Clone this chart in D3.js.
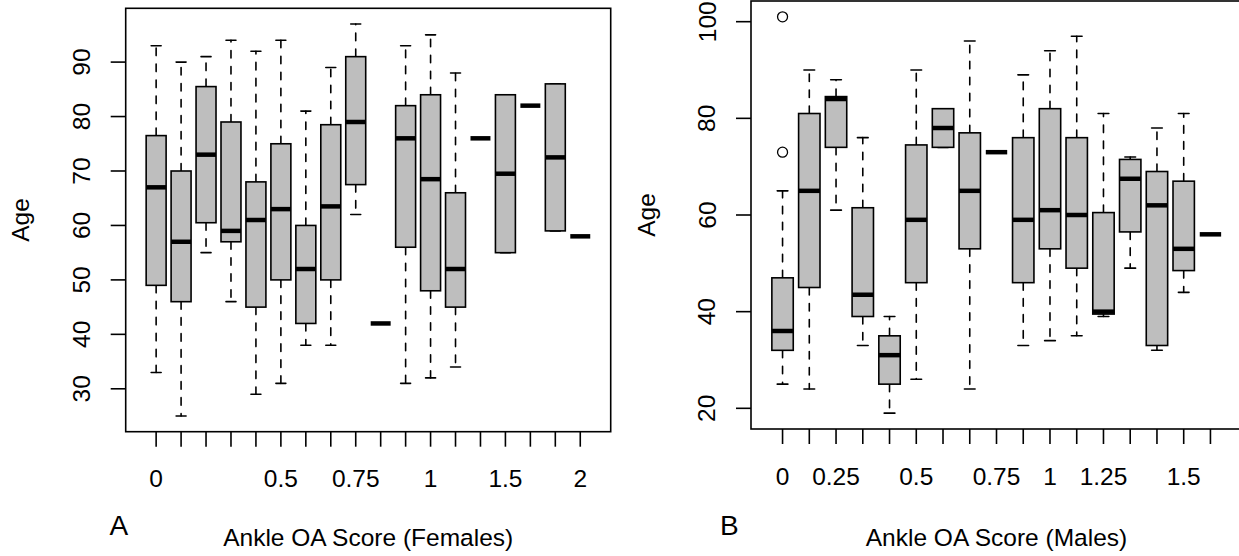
<!DOCTYPE html>
<html>
<head>
<meta charset="utf-8">
<script src="https://cdn.jsdelivr.net/npm/d3@7"></script>
<style>
  html, body { margin: 0; padding: 0; background: #fff; }
  svg { display: block; }
  text { font-family: "Liberation Sans", Arial, Helvetica, sans-serif; fill: #000; }
</style>
</head>
<body>
<svg id="chart" width="1239" height="556"></svg>
<script>
// ---------- DATA ----------
// Each box: [lower whisker, Q1, median, Q3, upper whisker]
const femaleTickLabels = ["0", "", "", "", "", "0.5", "", "", "0.75", "", "", "1", "", "", "1.5", "", "", "2"];
const femaleStats = [
  [33, 49, 67, 76.5, 93],
  [25, 46, 57, 70, 90],
  [55, 60.5, 73, 85.5, 91],
  [46, 57, 59, 79, 94],
  [29, 45, 61, 68, 92],
  [31, 50, 63, 75, 94],
  [38, 42, 52, 60, 81],
  [38, 50, 63.5, 78.5, 89],
  [62, 67.5, 79, 91, 97],
  [42, 42, 42, 42, 42],
  [31, 56, 76, 82, 93],
  [32, 48, 68.5, 84, 95],
  [34, 45, 52, 66, 88],
  [76, 76, 76, 76, 76],
  [55, 55, 69.5, 84, 84],
  [82, 82, 82, 82, 82],
  [59, 59, 72.5, 86, 86],
  [58, 58, 58, 58, 58]
];
const femaleOutliers = []; // [groupIndex, value]
const femaleYTicks = [30, 40, 50, 60, 70, 80, 90];

const maleTickLabels = ["0", "", "0.25", "", "", "0.5", "", "", "0.75", "", "1", "", "1.25", "", "", "1.5", ""];
const maleStats = [
  [25, 32, 36, 47, 65],
  [24, 45, 65, 81, 90],
  [61, 74, 84, 84.5, 88],
  [33, 39, 43.5, 61.5, 76],
  [19, 25, 31, 35, 39],
  [26, 46, 59, 74.5, 90],
  [74, 74, 78, 82, 82],
  [24, 53, 65, 77, 96],
  [73, 73, 73, 73, 73],
  [33, 46, 59, 76, 89],
  [34, 53, 61, 82, 94],
  [35, 49, 60, 76, 97],
  [39, 39.5, 40, 60.5, 81],
  [49, 56.5, 67.5, 71.5, 72],
  [32, 33, 62, 69, 78],
  [44, 48.5, 53, 67, 81],
  [56, 56, 56, 56, 56]
];
const maleOutliers = [[0, 101], [0, 73]];
const maleYTicks = [20, 40, 60, 80, 100];

// ---------- DRAWING ----------
const svg = d3.select("#chart");
svg.append("rect").attr("width", 1239).attr("height", 556).attr("fill", "#fff");

const LW = 1.6;
const FONT = 24.5;

function panel(opts) {
  const { stats, outliers, tickLabels, yTicks, box, xTitle, letter } = opts;
  const g = svg.append("g");
  const n = stats.length;
  // R-style limits: 4% extension
  const allVals = stats.flat().concat(outliers.map(d => d[1]));
  const [ymin, ymax] = d3.extent(allVals);
  const yext = (ymax - ymin) * 0.04;
  const y = d3.scaleLinear().domain([ymin - yext, ymax + yext]).range([box.bottom, box.top]);
  const xext = n * 0.04;
  const x = d3.scaleLinear().domain([0.5 - xext, n + 0.5 + xext]).range([box.left, box.right]);
  const unit = x(2) - x(1);
  const halfW = unit * 0.8 / 2;
  const staple = halfW / 2;

  // frame
  g.append("rect")
    .attr("x", box.left).attr("y", box.top)
    .attr("width", box.right - box.left).attr("height", box.bottom - box.top)
    .attr("fill", "none").attr("stroke", "#000").attr("stroke-width", LW);

  const groups = g.selectAll("g.bx").data(stats).join("g").attr("class", "bx");
  groups.each(function (s, i) {
    const gg = d3.select(this);
    const cx = x(i + 1);
    // whiskers (dashed)
    [[s[3], s[4]], [s[1], s[0]]].forEach(([a, b]) => {
      if (a !== b) {
        gg.append("line").attr("x1", cx).attr("x2", cx)
          .attr("y1", y(a)).attr("y2", y(b))
          .attr("stroke", "#000").attr("stroke-width", LW)
          .attr("stroke-linecap", "round")
          .attr("stroke-dasharray", "7.5,8.5");
      }
    });
    // staples
    [s[0], s[4]].forEach(v => {
      gg.append("line").attr("x1", cx - staple).attr("x2", cx + staple)
        .attr("y1", y(v)).attr("y2", y(v))
        .attr("stroke", "#000").attr("stroke-width", LW)
        .attr("stroke-linecap", "round");
    });
    // box
    gg.append("rect")
      .attr("x", cx - halfW).attr("y", y(s[3]))
      .attr("width", halfW * 2).attr("height", Math.max(0, y(s[1]) - y(s[3])))
      .attr("fill", "#bebebe").attr("stroke", "#000").attr("stroke-width", LW);
    // median
    gg.append("line").attr("x1", cx - halfW).attr("x2", cx + halfW)
      .attr("y1", y(s[2])).attr("y2", y(s[2]))
      .attr("stroke", "#000").attr("stroke-width", 4.5);
  });

  // outliers
  g.selectAll("circle.out").data(outliers).join("circle").attr("class", "out")
    .attr("cx", d => x(d[0] + 1)).attr("cy", d => y(d[1])).attr("r", 5)
    .attr("fill", "none").attr("stroke", "#000").attr("stroke-width", 1.3);

  // x axis ticks + labels
  const xt = g.append("g");
  tickLabels.forEach((lab, i) => {
    const cx = x(i + 1);
    xt.append("line").attr("x1", cx).attr("x2", cx)
      .attr("y1", box.bottom).attr("y2", box.bottom + 15)
      .attr("stroke", "#000").attr("stroke-width", LW);
    if (lab) {
      xt.append("text").attr("x", cx).attr("y", box.bottom + 55.5)
        .attr("text-anchor", "middle").attr("font-size", FONT).text(lab);
    }
  });

  // y axis ticks + labels
  const yt = g.append("g");
  yTicks.forEach(v => {
    const cy = y(v);
    yt.append("line").attr("x1", box.left - 15).attr("x2", box.left)
      .attr("y1", cy).attr("y2", cy)
      .attr("stroke", "#000").attr("stroke-width", LW);
    const tx = box.left - 35.5;
    yt.append("text").attr("x", tx).attr("y", cy)
      .attr("transform", `rotate(-90,${tx},${cy})`)
      .attr("text-anchor", "middle").attr("font-size", FONT).text(v);
  });

  // Axis titles
  const ax = box.left - 96.5;
  const ay = (box.top + box.bottom) / 2;
  g.append("text").attr("x", ax).attr("y", ay)
    .attr("transform", `rotate(-90,${ax},${ay})`)
    .attr("text-anchor", "middle").attr("font-size", FONT).text("Age");
  g.append("text").attr("x", (box.left + box.right) / 2).attr("y", 546)
    .attr("text-anchor", "middle").attr("font-size", FONT).text(xTitle);
  g.append("text").attr("x", letter.x).attr("y", 535)
    .attr("font-size", 28).text(letter.t);
}

panel({
  stats: femaleStats, outliers: femaleOutliers, tickLabels: femaleTickLabels, yTicks: femaleYTicks,
  box: { left: 125.7, right: 610.7, top: 8.3, bottom: 431.7 },
  xTitle: "Ankle OA Score (Females)", letter: { t: "A", x: 109.5 }
});
panel({
  stats: maleStats, outliers: maleOutliers, tickLabels: maleTickLabels, yTicks: maleYTicks,
  box: { left: 751, right: 1242, top: 1, bottom: 429 },
  xTitle: "Ankle OA Score (Males)", letter: { t: "B", x: 720 }
});
</script>
</body>
</html>
